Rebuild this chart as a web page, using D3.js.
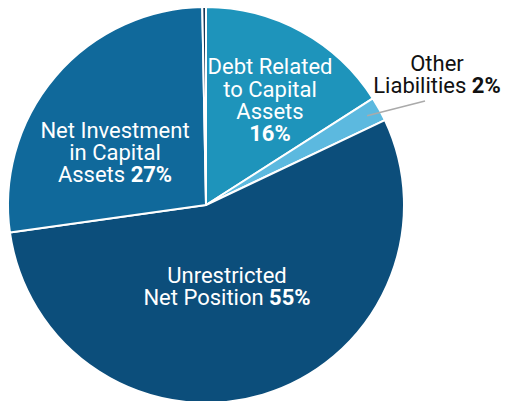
<!DOCTYPE html>
<html>
<head>
<meta charset="utf-8">
<script src="https://cdn.jsdelivr.net/npm/d3@7"></script>
<style>
  body { margin: 0; background: #fff; }
  svg { display: block; font-family: Roboto, sans-serif; }
</style>
</head>
<body>
<svg id="svg1" width="509" height="401"></svg>
<script>
// slices in clockwise order from 12 o'clock
var categories = ['Debt Related to Capital Assets', 'Other Liabilities', 'Unrestricted Net Position', 'Net Investment in Capital Assets', 'Restricted'];
var values = [16, 2, 55, 27, 0.3];
var colors = ['#1e94bb', '#5cb9df', '#0c4e7b', '#10699b', '#17395a'];
// label lines: [normal text, bold text] per line
var labelLines = [
  [['Debt Related', ''], ['to Capital', ''], ['Assets', ''], ['', '16%']],
  [['Other', ''], ['Liabilities ', '2%']],
  [['Unrestricted', ''], ['Net Position ', '55%']],
  [['Net Investment', ''], ['in Capital', ''], ['Assets ', '27%']],
  []
];

var cx = 206, cy = 205, radius = 198;
var lineH = 22.3;
// label centre offsets from the pie centre
var labelOffset = [[64, -105], [231, -131], [21, 81], [-91, -53], [0, 0]];

var svg = d3.select('#svg1');
var g = svg.append('g').attr('transform', 'translate(' + cx + ',' + cy + ')');

var pie = d3.pie().sort(null).value(function(d) { return d; });
var arc = d3.arc().innerRadius(0).outerRadius(radius);
var arcs = pie(values);

g.selectAll('path.slice')
    .data(arcs)
    .enter().append('path')
    .attr('class', 'slice')
    .attr('d', arc)
    .attr('fill', function(d, i) { return colors[i]; })
    .attr('stroke', '#fff')
    .attr('stroke-width', 2)
    .attr('stroke-linejoin', 'round');

// leader line for the thin slice
var inner = d3.arc().innerRadius(radius * 0.93).outerRadius(radius * 0.93);
var p0 = inner.centroid(arcs[1]);
g.append('line')
    .attr('x1', p0[0]).attr('y1', p0[1])
    .attr('x2', labelOffset[1][0] - 12).attr('y2', labelOffset[1][1] + 27)
    .attr('stroke', '#aaa')
    .attr('stroke-width', 1.5);

arcs.forEach(function(d, i) {
  var lines = labelLines[i];
  if (!lines.length) return;
  var t = g.append('text')
      .attr('text-anchor', 'middle')
      .attr('font-size', 22)
      .attr('fill', i == 1 ? '#111' : '#fff');
  var top = labelOffset[i][1] - (lines.length - 1) * lineH / 2;
  lines.forEach(function(ln, j) {
    var ts = t.append('tspan')
        .attr('x', labelOffset[i][0])
        .attr('y', top + j * lineH)
        .attr('dy', '0.36em');
    if (ln[0]) ts.append('tspan').text(ln[0]);
    if (ln[1]) ts.append('tspan').attr('font-weight', 'bold').text(ln[1]);
  });
});
</script>
</body>
</html>
